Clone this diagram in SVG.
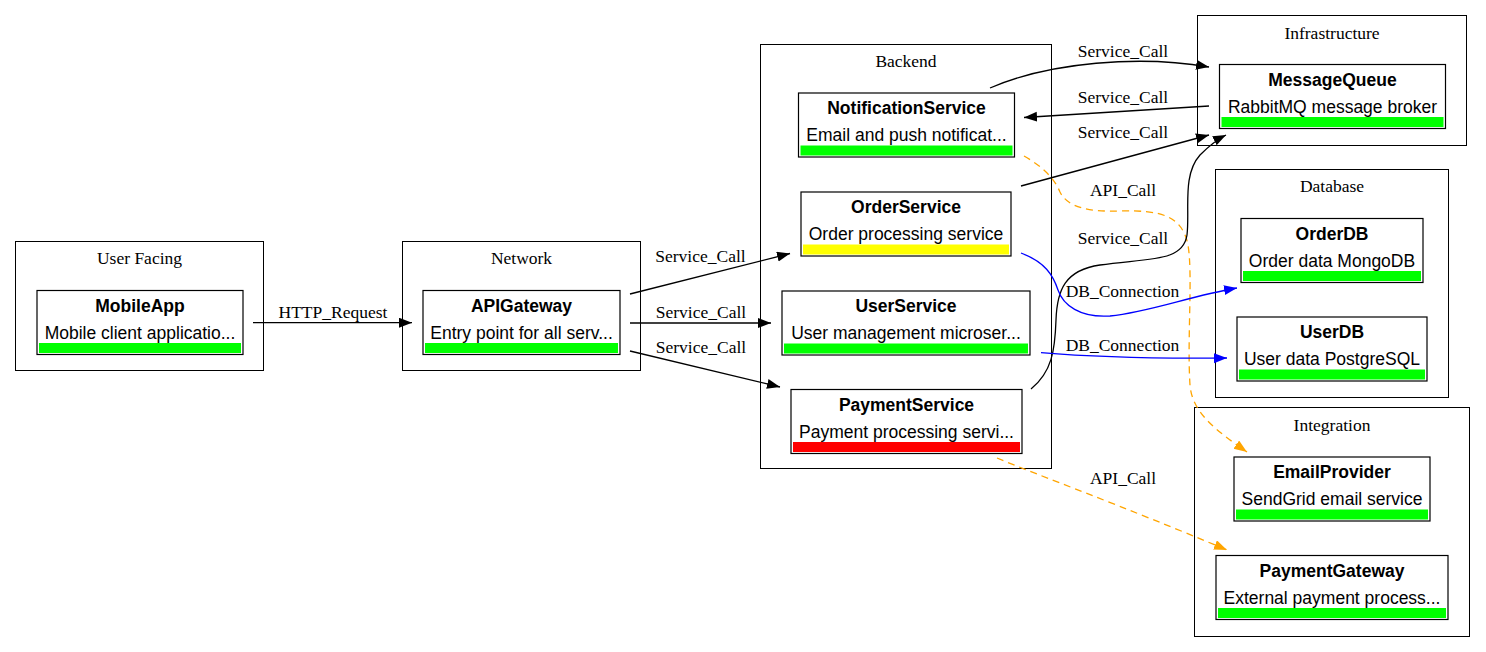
<svg xmlns="http://www.w3.org/2000/svg" width="1486" height="652" viewBox="0 0 1486 652">
<style>
.cl{fill:none;stroke:#000;stroke-width:1}
.cll{font-family:"Liberation Serif",serif;font-size:17.5px;text-anchor:middle;fill:#000}
.nb{fill:#fff;stroke:#000;stroke-width:1.2}
.t{font-family:"Liberation Sans",Arial,sans-serif;font-size:17.5px;font-weight:bold;text-anchor:middle;fill:#000}
.d{font-family:"Liberation Sans",Arial,sans-serif;font-size:17.5px;text-anchor:middle;fill:#000}
.g{fill:#00ff00}
.y{fill:#ffff00}
.r{fill:#ff0000}
.e{fill:none;stroke:#000;stroke-width:1.3}
.eb{fill:none;stroke:#0000ff;stroke-width:1.3}
.eo{fill:none;stroke:#ffa500;stroke-width:1.3;stroke-dasharray:7,5}
.el{font-family:"Liberation Serif",serif;font-size:17.5px;text-anchor:middle;fill:#000}
</style>
<defs>
<marker id="ab" markerUnits="userSpaceOnUse" markerWidth="14" markerHeight="11" refX="13" refY="5" orient="auto"><path d="M0,0 L13,5 L0,10 z" fill="#000"/></marker>
<marker id="abl" markerUnits="userSpaceOnUse" markerWidth="14" markerHeight="11" refX="13" refY="5" orient="auto"><path d="M0,0 L13,5 L0,10 z" fill="#0000ff"/></marker>
<marker id="ao" markerUnits="userSpaceOnUse" markerWidth="14" markerHeight="11" refX="13" refY="5" orient="auto"><path d="M0,0 L13,5 L0,10 z" fill="#ffa500"/></marker>
</defs>
<rect width="1486" height="652" fill="#fff"/>
<g id="clusters">
<g id="cluster_user_facing"><rect class="cl" x="15.5" y="241.5" width="248" height="129"/><text class="cll" x="139.5" y="264">User Facing</text></g>
<g id="cluster_network"><rect class="cl" x="402.5" y="241.5" width="238" height="129"/><text class="cll" x="521.5" y="264">Network</text></g>
<g id="cluster_backend"><rect class="cl" x="760.5" y="44.5" width="291" height="424"/><text class="cll" x="906" y="67">Backend</text></g>
<g id="cluster_infrastructure"><rect class="cl" x="1197.5" y="15.5" width="269" height="130"/><text class="cll" x="1332" y="38.5">Infrastructure</text></g>
<g id="cluster_database"><rect class="cl" x="1215.5" y="169.5" width="233" height="228"/><text class="cll" x="1332" y="192">Database</text></g>
<g id="cluster_integration"><rect class="cl" x="1194.5" y="407.5" width="275" height="229"/><text class="cll" x="1332" y="431">Integration</text></g>
</g>
<g id="edges">
<path class="e" d="M253,322.7 L412,322.7" marker-end="url(#ab)"/>
<text class="el" x="333" y="318">HTTP_Request</text>
<path class="e" d="M630,294 L790,253.5" marker-end="url(#ab)"/>
<text class="el" x="700.5" y="262">Service_Call</text>
<path class="e" d="M630,323 L771,323" marker-end="url(#ab)"/>
<text class="el" x="701" y="317.5">Service_Call</text>
<path class="e" d="M630,351 L780,387" marker-end="url(#ab)"/>
<text class="el" x="701" y="353">Service_Call</text>
<path class="e" d="M990,88 C1050,62 1140,55 1209,67" marker-end="url(#ab)"/>
<text class="el" x="1123" y="57">Service_Call</text>
<path class="e" d="M1209,106 L1024,117.5" marker-end="url(#ab)"/>
<text class="el" x="1123" y="103">Service_Call</text>
<path class="e" d="M1021,186 L1209,135" marker-end="url(#ab)"/>
<text class="el" x="1123" y="137.5">Service_Call</text>
<path class="eo" d="M1024,156 C1045,168 1055,180 1060,192 C1068,208 1090,212 1120,211 C1160,210 1182,215 1188,245 C1193,275 1187,340 1190,385 C1192,412 1215,430 1247,452" marker-end="url(#ao)"/>
<text class="el" x="1123" y="196">API_Call</text>
<path class="e" d="M1031,389 C1052,372 1055,350 1056,320 C1057,290 1065,270 1100,265 C1150,258 1183,262 1187,235 C1190,210 1182,175 1200,155 C1208,147 1216,140 1226,135" marker-end="url(#ab)"/>
<text class="el" x="1123" y="243.5">Service_Call</text>
<path class="eb" d="M1021,253 C1045,262 1053,275 1058,290 C1063,305 1080,318 1110,316 C1150,312 1190,296 1237,288" marker-end="url(#abl)"/>
<text class="el" x="1122.5" y="296.5">DB_Connection</text>
<path class="eb" d="M1041,352.7 C1080,356 1130,359 1227,358" marker-end="url(#abl)"/>
<text class="el" x="1122.5" y="350.5">DB_Connection</text>
<path class="eo" d="M997,458 C1040,476 1120,505 1227,550" marker-end="url(#ao)"/>
<text class="el" x="1123" y="484">API_Call</text>
</g>
<g id="MobileApp"><rect class="nb" x="37" y="290.5" width="206" height="64"/><text class="t" x="140" y="311.5">MobileApp</text><text class="d" x="140" y="338.5">Mobile client applicatio...</text><rect class="g" x="39" y="343" width="202" height="10"/></g>
<g id="APIGateway"><rect class="nb" x="423" y="290.5" width="197" height="64"/><text class="t" x="521.5" y="311.5">APIGateway</text><text class="d" x="521.5" y="338.5">Entry point for all serv...</text><rect class="g" x="425" y="343" width="193" height="10"/></g>
<g id="NotificationService"><rect class="nb" x="798.5" y="93" width="216" height="64"/><text class="t" x="906.5" y="114">NotificationService</text><text class="d" x="906.5" y="141">Email and push notificat...</text><rect class="g" x="800.5" y="145.5" width="212" height="10"/></g>
<g id="OrderService"><rect class="nb" x="801" y="192" width="210" height="64"/><text class="t" x="906" y="213">OrderService</text><text class="d" x="906" y="240">Order processing service</text><rect class="y" x="803" y="244.5" width="206" height="10"/></g>
<g id="UserService"><rect class="nb" x="782" y="291" width="248" height="64"/><text class="t" x="906" y="312">UserService</text><text class="d" x="906" y="339">User management microser...</text><rect class="g" x="784" y="343.5" width="244" height="10"/></g>
<g id="PaymentService"><rect class="nb" x="791" y="389.5" width="231" height="64"/><text class="t" x="906.5" y="410.5">PaymentService</text><text class="d" x="906.5" y="437.5">Payment processing servi...</text><rect class="r" x="793" y="442" width="227" height="10"/></g>
<g id="MessageQueue"><rect class="nb" x="1219.5" y="64.5" width="226" height="64"/><text class="t" x="1332.5" y="85.5">MessageQueue</text><text class="d" x="1332.5" y="112.5">RabbitMQ message broker</text><rect class="g" x="1221.5" y="117" width="222" height="10"/></g>
<g id="OrderDB"><rect class="nb" x="1241" y="218.5" width="182" height="64"/><text class="t" x="1332" y="239.5">OrderDB</text><text class="d" x="1332" y="266.5">Order data MongoDB</text><rect class="g" x="1243" y="271" width="178" height="10"/></g>
<g id="UserDB"><rect class="nb" x="1237" y="317" width="190" height="64"/><text class="t" x="1332" y="338">UserDB</text><text class="d" x="1332" y="365">User data PostgreSQL</text><rect class="g" x="1239" y="369.5" width="186" height="10"/></g>
<g id="EmailProvider"><rect class="nb" x="1234" y="457" width="196" height="64"/><text class="t" x="1332" y="478">EmailProvider</text><text class="d" x="1332" y="505">SendGrid email service</text><rect class="g" x="1236" y="509.5" width="192" height="10"/></g>
<g id="PaymentGateway"><rect class="nb" x="1216" y="555.5" width="232" height="64"/><text class="t" x="1332" y="576.5">PaymentGateway</text><text class="d" x="1332" y="603.5">External payment process...</text><rect class="g" x="1218" y="608" width="228" height="10"/></g>
</svg>
